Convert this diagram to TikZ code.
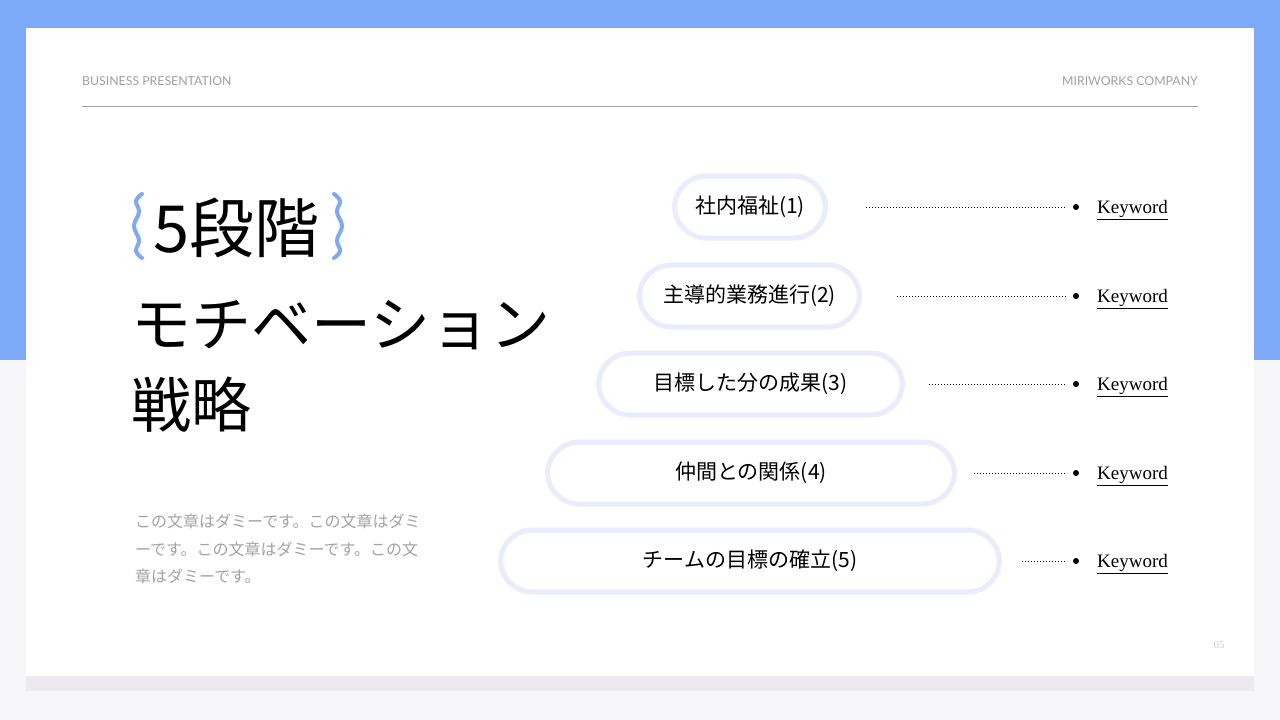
\documentclass[tikz,border=0pt]{standalone}
\usepackage{fontspec}
\setmainfont{Noto Sans CJK JP}
\newfontfamily\jpf{Noto Sans CJK JP}
\newfontfamily\serf{Liberation Serif}
\newfontfamily\latf{Lato}
\definecolor{topblue}{HTML}{7DAAF8}
\definecolor{bgray}{HTML}{F7F6F9}
\definecolor{shadowc}{HTML}{ECEAF0}
\definecolor{pillc}{HTML}{E8ECFD}
\definecolor{hdr}{HTML}{A0A0A0}
\definecolor{bodyc}{HTML}{A3A3A3}
\definecolor{bracec}{HTML}{7DAAF2}
\tikzset{
  pill/.style={draw=pillc, line width=5pt, fill=white, rounded corners=32pt, minimum height=62pt, inner sep=0pt, font=\jpf\fontsize{21}{24}\selectfont},
  bullet/.style={circle, fill=black, inner sep=0pt, minimum size=6pt},
  kw/.style={anchor=west, inner sep=0pt, font=\serf\fontsize{19}{22}\selectfont},
  leader/.style={line width=1pt, dash pattern=on 1pt off 2pt},
  hdrtext/.style={font=\latf\fontsize{12.3}{14}\selectfont, text=hdr, inner sep=0pt},
  bracepath/.style={draw=bracec, line width=4pt, line cap=round, line join=round}
}
\newcommand{\pt}[1]{\raisebox{-2pt}{#1}}
\begin{document}
\begin{tikzpicture}[x=1pt,y=-1pt]
\useasboundingbox (0,0) rectangle (1280,720);
\fill[bgray] (0,0) rectangle (1280,720);
\fill[topblue] (0,0) rectangle (1280,360);
\fill[shadowc] (26,660) rectangle (1254,691);
\fill[white] (26,28) rectangle (1254,676);
% header
\node[hdrtext, anchor=west] (h1) at (82,81) {BUSINESS PRESENTATION};
\node[hdrtext, anchor=east] (h2) at (1198,81) {MIRIWORKS COMPANY};
\draw[hdr, line width=0.9pt] (82,106) -- (1198,106);
% title
\node[anchor=west, inner sep=0pt, font=\jpf\fontsize{65}{66}\selectfont] (t1) at (153,228) {5段階};
\draw[bracepath] plot[smooth, tension=0.7] coordinates {(142,194) (136,201) (139,212) (134,226) (139,240) (136,251) (142,258)};
\draw[bracepath] plot[smooth, tension=0.7] coordinates {(334,194) (340,201) (337,212) (342,226) (337,240) (340,251) (334,258)};
\node[anchor=west, inner sep=0pt, font=\jpf\fontsize{60}{62}\selectfont] (t2) at (131,325) {モチベーション};
\node[anchor=west, inner sep=0pt, font=\jpf\fontsize{60}{62}\selectfont] (t3) at (131,405) {戦略};
% body
\node[anchor=north west, inner sep=0pt, align=left, text=bodyc, font=\jpf\fontsize{16}{27.5}\selectfont] (body) at (135,514) {この文章はダミーです。この文章はダミ\\ーです。この文章はダミーです。この文\\章はダミーです。};
% pills
\node[pill, minimum width=151pt] (p1) at (750,207) {\pt{社内福祉(1)}};
\node[pill, minimum width=220pt] (p2) at (749.5,296) {\pt{主導的業務進行(2)}};
\node[pill, minimum width=304pt] (p3) at (750.5,384) {\pt{目標した分の成果(3)}};
\node[pill, minimum width=407pt] (p4) at (751,473) {\pt{仲間との関係(4)}};
\node[pill, minimum width=499pt] (p5) at (750,561) {\pt{チームの目標の確立(5)}};
% leaders
\coordinate (s1) at (866,207);
\coordinate (s2) at (897,296);
\coordinate (s3) at (929,384);
\coordinate (s4) at (974,473);
\coordinate (s5) at (1022,561);
\foreach \i/\y in {1/207,2/296,3/384,4/473,5/561}{
  \node[bullet] (d\i) at (1076,\y) {};
  \coordinate (e\i) at (1066,\y);
  \node[kw] (k\i) at (1097,\y+3) {\underline{Keyword}};
  \draw[leader] (s\i) -- (e\i);
}
\node[font=\serf\fontsize{11}{12}\selectfont, text=black!20, inner sep=0pt] (pg) at (1219,645) {05};
\end{tikzpicture}
\end{document}
